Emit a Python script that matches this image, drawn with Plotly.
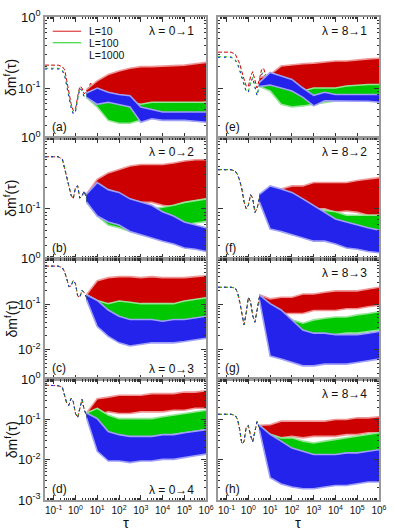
import plotly.graph_objects as go
from plotly.subplots import make_subplots

# ---------------- data ----------------
TAU_EARLY = [0.04, 0.16, 0.25, 0.32, 0.40, 0.50, 0.63, 0.79, 1.0, 1.26, 1.58,
             2.0, 2.5, 3.2, 4.0, 5.0, 6.3, 7.9, 10.0]
TAU_BAND = [3.2, 10, 32, 100, 320, 1e3, 3.2e3, 1e4, 3.2e4, 1e5, 3.2e5, 1e6]

SERIES = ["L=10", "L=100", "L=1000"]
PANEL_LABELS = ["(a)", "(b)", "(c)", "(d)", "(e)", "(f)", "(g)", "(h)"]
LAMBDA_LABELS = ["λ = 0→1", "λ = 0→2", "λ = 0→3", "λ = 0→4",
                 "λ = 8→1", "λ = 8→2", "λ = 8→3", "λ = 8→4"]
X_TICKS = [0.1, 1, 10, 1e2, 1e3, 1e4, 1e5, 1e6]
X_TICK_TEXT = ["10<sup>-1</sup>", "10<sup>0</sup>", "10<sup>1</sup>", "10<sup>2</sup>",
               "10<sup>3</sup>", "10<sup>4</sup>", "10<sup>5</sup>", "10<sup>6</sup>"]
Y_TICKS = [1, 0.1, 0.01, 0.001]
Y_TICK_TEXT = ["10<sup>0</sup>", "10<sup>-1</sup>", "10<sup>-2</sup>", "10<sup>-3</sup>"]

# panel (a)
a_early_red = [0.21, 0.21, 0.20, 0.18, 0.126, 0.085, 0.060, 0.048, 0.050, 0.076, 0.105, 0.100, 0.083, 0.089, 0.105, 0.117, 0.100, 0.095, 0.100]
a_early_green = [0.19, 0.19, 0.18, 0.15, 0.107, 0.074, 0.054, 0.044, 0.047, 0.071, 0.100, 0.093, 0.076, 0.079, 0.100, 0.112, 0.089, 0.079, 0.089]
a_early_blue = [0.185, 0.185, 0.175, 0.148, 0.105, 0.072, 0.053, 0.043, 0.046, 0.069, 0.098, 0.091, 0.075, 0.078, 0.098, 0.110, 0.087, 0.078, 0.087]
a_red_hi = [0.095, 0.126, 0.155, 0.174, 0.19, 0.20, 0.20, 0.204, 0.204, 0.21, 0.22, 0.23]
a_red_lo = [0.083, 0.068, 0.059, 0.054, 0.054, 0.054, 0.054, 0.055, 0.056, 0.058, 0.060, 0.063]
a_green_hi = [0.085, 0.091, 0.074, 0.068, 0.063, 0.059, 0.063, 0.063, 0.063, 0.063, 0.063, 0.063]
a_green_lo = [0.074, 0.054, 0.035, 0.032, 0.032, 0.035, 0.039, 0.039, 0.040, 0.041, 0.042, 0.044]
a_blue_hi = [0.085, 0.100, 0.087, 0.081, 0.078, 0.054, 0.050, 0.046, 0.046, 0.046, 0.046, 0.046]
a_blue_lo = [0.074, 0.059, 0.063, 0.059, 0.054, 0.033, 0.037, 0.035, 0.035, 0.035, 0.034, 0.033]

# panel (b)
b_early = [0.54, 0.54, 0.50, 0.36, 0.27, 0.20, 0.155, 0.138, 0.20, 0.21, 0.141, 0.151, 0.178, 0.141, 0.158, 0.126, 0.141, 0.126, 0.126]
b_red_hi = [0.16, 0.26, 0.32, 0.36, 0.40, 0.42, 0.42, 0.42, 0.44, 0.47, 0.49, 0.49]
b_red_lo = [0.125, 0.112, 0.10, 0.123, 0.135, 0.123, 0.123, 0.112, 0.107, 0.10, 0.089, 0.089]
b_green_hi = [0.16, 0.21, 0.17, 0.138, 0.112, 0.10, 0.10, 0.105, 0.112, 0.123, 0.129, 0.138]
b_green_lo = [0.125, 0.079, 0.059, 0.054, 0.048, 0.043, 0.043, 0.048, 0.052, 0.059, 0.063, 0.066]
b_blue_hi = [0.16, 0.234, 0.186, 0.17, 0.138, 0.126, 0.112, 0.091, 0.079, 0.065, 0.059, 0.054]
b_blue_lo = [0.125, 0.079, 0.065, 0.059, 0.048, 0.043, 0.039, 0.035, 0.032, 0.028, 0.027, 0.025]

# panel (c)
c_early = [0.68, 0.68, 0.63, 0.50, 0.355, 0.24, 0.25, 0.33, 0.28, 0.151, 0.141, 0.20, 0.178, 0.141, 0.158, 0.141, 0.126, 0.126, 0.112]
c_red_hi = [0.16, 0.324, 0.38, 0.40, 0.40, 0.38, 0.40, 0.38, 0.38, 0.38, 0.40, 0.417]
c_red_lo = [0.125, 0.087, 0.102, 0.102, 0.087, 0.087, 0.087, 0.079, 0.087, 0.102, 0.102, 0.102]
c_green_hi = [0.16, 0.12, 0.102, 0.117, 0.11, 0.102, 0.102, 0.102, 0.102, 0.117, 0.129, 0.138]
c_green_lo = [0.125, 0.052, 0.045, 0.032, 0.038, 0.038, 0.035, 0.032, 0.035, 0.038, 0.045, 0.049]
c_blue_hi = [0.16, 0.12, 0.074, 0.054, 0.046, 0.046, 0.046, 0.042, 0.046, 0.046, 0.049, 0.054]
c_blue_lo = [0.125, 0.032, 0.0195, 0.0141, 0.012, 0.0129, 0.0141, 0.0141, 0.0141, 0.0151, 0.0166, 0.0178]

# panel (d)
d_early = [0.71, 0.69, 0.63, 0.40, 0.25, 0.224, 0.34, 0.28, 0.141, 0.112, 0.20, 0.316, 0.178, 0.126, 0.158, 0.141, 0.126, 0.112, 0.112]
d_red_hi = [0.145, 0.33, 0.36, 0.40, 0.40, 0.40, 0.44, 0.44, 0.44, 0.48, 0.48, 0.52]
d_red_lo = [0.11, 0.129, 0.155, 0.141, 0.141, 0.155, 0.155, 0.155, 0.17, 0.17, 0.19, 0.19]
d_green_hi = [0.145, 0.19, 0.129, 0.105, 0.105, 0.105, 0.105, 0.117, 0.129, 0.141, 0.155, 0.17]
d_green_lo = [0.11, 0.063, 0.043, 0.039, 0.035, 0.032, 0.035, 0.039, 0.043, 0.047, 0.051, 0.056]
d_blue_hi = [0.145, 0.105, 0.05, 0.042, 0.038, 0.038, 0.038, 0.042, 0.042, 0.047, 0.051, 0.056]
d_blue_lo = [0.11, 0.0162, 0.0093, 0.0093, 0.0085, 0.0093, 0.0093, 0.0102, 0.0102, 0.0115, 0.0126, 0.0138]

# panel (e)
e_early_red = [0.32, 0.32, 0.30, 0.26, 0.22, 0.17, 0.132, 0.107, 0.105, 0.145, 0.17, 0.126, 0.10, 0.132, 0.18, 0.19, 0.151, 0.132, 0.138]
e_early_green = [0.275, 0.275, 0.25, 0.22, 0.18, 0.141, 0.112, 0.091, 0.089, 0.12, 0.141, 0.105, 0.079, 0.112, 0.158, 0.166, 0.126, 0.112, 0.12]
e_early_blue = [0.27, 0.27, 0.245, 0.215, 0.176, 0.138, 0.11, 0.089, 0.087, 0.118, 0.138, 0.103, 0.078, 0.11, 0.155, 0.162, 0.123, 0.11, 0.118]
e_red_hi = [0.14, 0.155, 0.204, 0.214, 0.22, 0.224, 0.234, 0.24, 0.24, 0.25, 0.257, 0.263]
e_red_lo = [0.125, 0.10, 0.074, 0.069, 0.076, 0.081, 0.087, 0.089, 0.089, 0.091, 0.095, 0.10]
e_green_hi = [0.12, 0.138, 0.107, 0.091, 0.091, 0.10, 0.10, 0.10, 0.107, 0.11, 0.112, 0.112]
e_green_lo = [0.105, 0.091, 0.059, 0.054, 0.056, 0.059, 0.063, 0.066, 0.068, 0.069, 0.069, 0.069]
e_blue_hi = [0.12, 0.166, 0.148, 0.132, 0.10, 0.079, 0.087, 0.081, 0.081, 0.081, 0.081, 0.081]
e_blue_lo = [0.105, 0.11, 0.10, 0.091, 0.074, 0.056, 0.066, 0.066, 0.066, 0.066, 0.065, 0.063]

# panel (f)
f_early = [0.355, 0.355, 0.34, 0.30, 0.25, 0.19, 0.126, 0.10, 0.112, 0.158, 0.141, 0.089, 0.10, 0.141, 0.158, 0.126, 0.112, 0.126, 0.112]
f_red_hi = [0.16, 0.17, 0.19, 0.21, 0.21, 0.234, 0.234, 0.234, 0.234, 0.25, 0.263, 0.275]
f_red_lo = [0.125, 0.081, 0.072, 0.089, 0.10, 0.10, 0.10, 0.089, 0.093, 0.089, 0.081, 0.081]
f_green_hi = [0.16, 0.138, 0.10, 0.091, 0.091, 0.10, 0.095, 0.091, 0.081, 0.081, 0.081, 0.081]
f_green_lo = [0.125, 0.065, 0.048, 0.043, 0.043, 0.048, 0.048, 0.05, 0.048, 0.046, 0.043, 0.043]
f_blue_hi = [0.16, 0.21, 0.19, 0.17, 0.138, 0.112, 0.091, 0.072, 0.065, 0.059, 0.054, 0.05]
f_blue_lo = [0.125, 0.052, 0.048, 0.043, 0.039, 0.035, 0.035, 0.032, 0.028, 0.027, 0.025, 0.024]

# panel (g)
g_early = [0.234, 0.234, 0.224, 0.178, 0.112, 0.056, 0.035, 0.063, 0.141, 0.112, 0.056, 0.04, 0.079, 0.141, 0.10, 0.079, 0.089, 0.10, 0.089]
g_red_hi = [0.16, 0.13, 0.141, 0.141, 0.166, 0.166, 0.182, 0.195, 0.195, 0.195, 0.214, 0.234]
g_red_lo = [0.125, 0.052, 0.062, 0.062, 0.062, 0.072, 0.072, 0.072, 0.079, 0.079, 0.087, 0.093]
g_green_hi = [0.16, 0.074, 0.062, 0.045, 0.038, 0.045, 0.049, 0.052, 0.052, 0.058, 0.062, 0.068]
g_green_lo = [0.125, 0.027, 0.023, 0.0166, 0.0141, 0.0166, 0.0195, 0.0214, 0.023, 0.023, 0.025, 0.027]
g_blue_hi = [0.16, 0.102, 0.074, 0.045, 0.027, 0.023, 0.023, 0.0214, 0.0214, 0.0214, 0.023, 0.025]
g_blue_lo = [0.125, 0.0072, 0.0062, 0.0052, 0.0044, 0.0044, 0.0048, 0.0048, 0.0048, 0.0052, 0.0056, 0.0062]

# panel (h)
h_early = [0.135, 0.135, 0.126, 0.10, 0.056, 0.025, 0.028, 0.063, 0.071, 0.04, 0.028, 0.05, 0.089, 0.063, 0.04, 0.05, 0.063, 0.05, 0.05]
h_red_hi = [0.072, 0.074, 0.091, 0.091, 0.091, 0.091, 0.091, 0.10, 0.10, 0.11, 0.11, 0.117]
h_red_lo = [0.055, 0.029, 0.035, 0.038, 0.035, 0.038, 0.038, 0.038, 0.042, 0.042, 0.047, 0.047]
h_green_hi = [0.072, 0.043, 0.035, 0.035, 0.029, 0.026, 0.029, 0.032, 0.035, 0.038, 0.043, 0.047]
h_green_lo = [0.055, 0.0115, 0.0115, 0.0102, 0.0093, 0.0093, 0.0102, 0.0102, 0.0115, 0.0126, 0.0138, 0.0151]
h_blue_hi = [0.072, 0.043, 0.029, 0.0195, 0.0162, 0.0135, 0.0135, 0.0135, 0.0148, 0.0148, 0.0162, 0.0178]
h_blue_lo = [0.055, 0.0036, 0.0025, 0.0021, 0.0019, 0.0019, 0.0021, 0.0023, 0.0023, 0.0025, 0.0028, 0.0028]

# ---------------- assemble ----------------
PANELS = [
    dict(early=[a_early_red, a_early_green, a_early_blue],
         hi=[a_red_hi, a_green_hi, a_blue_hi], lo=[a_red_lo, a_green_lo, a_blue_lo]),
    dict(early=[b_early, b_early, b_early],
         hi=[b_red_hi, b_green_hi, b_blue_hi], lo=[b_red_lo, b_green_lo, b_blue_lo]),
    dict(early=[c_early, c_early, c_early],
         hi=[c_red_hi, c_green_hi, c_blue_hi], lo=[c_red_lo, c_green_lo, c_blue_lo]),
    dict(early=[d_early, d_early, d_early],
         hi=[d_red_hi, d_green_hi, d_blue_hi], lo=[d_red_lo, d_green_lo, d_blue_lo]),
    dict(early=[e_early_red, e_early_green, e_early_blue],
         hi=[e_red_hi, e_green_hi, e_blue_hi], lo=[e_red_lo, e_green_lo, e_blue_lo]),
    dict(early=[f_early, f_early, f_early],
         hi=[f_red_hi, f_green_hi, f_blue_hi], lo=[f_red_lo, f_green_lo, f_blue_lo]),
    dict(early=[g_early, g_early, g_early],
         hi=[g_red_hi, g_green_hi, g_blue_hi], lo=[g_red_lo, g_green_lo, g_blue_lo]),
    dict(early=[h_early, h_early, h_early],
         hi=[h_red_hi, h_green_hi, h_blue_hi], lo=[h_red_lo, h_green_lo, h_blue_lo]),
]

CORE = ["rgb(205,0,0)", "rgb(0,200,0)", "rgb(35,35,235)"]
EDGE = ["rgb(238,150,150)", "rgb(150,228,150)", "rgb(160,160,248)"]
DASH = ["4px,2px", "3px,3px", "2px,4px"]
Y_RANGES = [[-1.7, 0], [-1.7, 0], [-2.65, 0], [-3, 0]]
FONT = "Liberation Sans"

fig = make_subplots(rows=4, cols=2, horizontal_spacing=12 / 340, vertical_spacing=0)

for p, panel in enumerate(PANELS):
    col = 1 if p < 4 else 2
    row = p % 4 + 1
    for s in range(3):
        fig.add_trace(go.Scatter(x=TAU_EARLY, y=panel["early"][s], mode="lines",
                                 line=dict(color=CORE[s], width=1, dash=DASH[s]),
                                 showlegend=False, hoverinfo="skip"), row=row, col=col)
    for s in range(3):
        fig.add_trace(go.Scatter(x=TAU_BAND, y=panel["hi"][s], mode="lines",
                                 line=dict(color=EDGE[s], width=1.6),
                                 showlegend=False, hoverinfo="skip"), row=row, col=col)
        fig.add_trace(go.Scatter(x=TAU_BAND, y=panel["lo"][s], mode="lines",
                                 line=dict(color=EDGE[s], width=1.6),
                                 fill="tonexty", fillcolor=CORE[s],
                                 showlegend=False, hoverinfo="skip"), row=row, col=col)

minor_x = [k * 10.0 ** n for n in range(-2, 7) for k in range(2, 10)]
minor_y = [k * 10.0 ** n for n in range(-4, 1) for k in range(2, 10)]

annotations = []
for p in range(8):
    col = 1 if p < 4 else 2
    row = p % 4 + 1
    idx = (row - 1) * 2 + col
    sfx = "" if idx == 1 else str(idx)
    fig.update_xaxes(type="log", range=[-1.4, 6], tickmode="array", tickvals=X_TICKS,
                     ticktext=X_TICK_TEXT, showticklabels=(row == 4),
                     ticks="inside", ticklen=5, tickwidth=1, tickcolor="#333",
                     minor=dict(tickmode="array", tickvals=minor_x, ticks="inside",
                                ticklen=2.5, tickcolor="#333", showgrid=False),
                     showline=True, linecolor="#999", linewidth=1.5, mirror="ticks",
                     showgrid=False, zeroline=False,
                     tickfont=dict(size=10, family=FONT, color="#111"),
                     row=row, col=col)
    fig.update_yaxes(type="log", range=Y_RANGES[row - 1], tickmode="array",
                     tickvals=Y_TICKS, ticktext=Y_TICK_TEXT, showticklabels=(col == 1),
                     ticks="inside", ticklen=5, tickwidth=1, tickcolor="#333",
                     minor=dict(tickmode="array", tickvals=minor_y, ticks="inside",
                                ticklen=2.5, tickcolor="#333", showgrid=False),
                     showline=True, linecolor="#999", linewidth=1.5, mirror="ticks",
                     showgrid=False, zeroline=False,
                     tickfont=dict(size=13, family=FONT, color="#111"),
                     row=row, col=col)
    xr, yr = f"x{sfx} domain", f"y{sfx} domain"
    annotations.append(dict(text=PANEL_LABELS[p], xref=xr, yref=yr, x=0.03, y=0.09,
                            xanchor="left", yanchor="middle", showarrow=False,
                            font=dict(size=12, family=FONT, color="#111")))
    top = p not in (2, 3)
    annotations.append(dict(text=LAMBDA_LABELS[p], xref=xr, yref=yr, x=0.94,
                            y=0.88 if top else 0.085, xanchor="right", yanchor="middle",
                            showarrow=False, font=dict(size=12, family=FONT, color="#111")))
    if col == 1:
        annotations.append(dict(text="δm<sup>f</sup>(τ)", xref="paper", yref=yr,
                                x=-0.103, y=0.5, xanchor="center", yanchor="middle",
                                textangle=-90, showarrow=False,
                                font=dict(size=14, family=FONT, color="#111")))

for cx in (0.2426, 0.7574):
    annotations.append(dict(text="τ", xref="paper", yref="paper", x=cx, y=-0.047,
                            xanchor="center", yanchor="middle", showarrow=False,
                            font=dict(size=15, family=FONT, color="#111")))

# legend inside panel (a)
shapes = []
leg_y = [0.882, 0.787, 0.688]
leg_line = ["rgb(220,60,60)", "rgb(60,215,60)", "rgba(0,0,0,0)"]
for s in range(3):
    shapes.append(dict(type="line", xref="x domain", yref="y domain", x0=0.048, x1=0.224,
                       y0=leg_y[s], y1=leg_y[s], line=dict(color=leg_line[s], width=1.2)))
    annotations.append(dict(text=SERIES[s], xref="x domain", yref="y domain", x=0.26,
                            y=leg_y[s], xanchor="left", yanchor="middle", showarrow=False,
                            font=dict(size=10.5, family=FONT, color="#111")))

fig.update_layout(width=395, height=530, margin=dict(l=45, r=10, t=8, b=30),
                  paper_bgcolor="white", plot_bgcolor="white", showlegend=False,
                  annotations=annotations, shapes=shapes,
                  font=dict(family=FONT, color="#111"))

fig.write_html("out.html", config={"displayModeBar": False},
               post_script="document.body.style.margin='0px';document.body.style.overflow='hidden';")
